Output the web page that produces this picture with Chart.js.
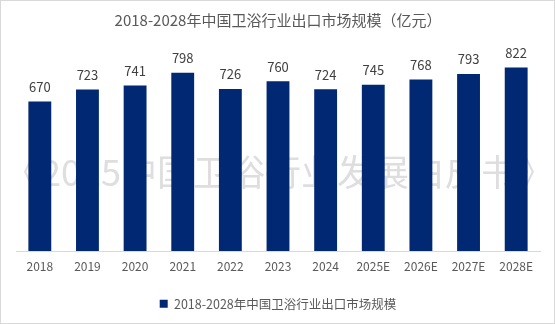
<!DOCTYPE html>
<html>
<head>
<meta charset="utf-8">
<script src="https://cdn.jsdelivr.net/npm/chart.js@4"></script>
<style>
    body { margin: 0; background: #fff; }
    #wrap { width: 555px; height: 324px; box-sizing: border-box; border: 1px solid #d9d9d9; }
</style>
</head>
<body>
<div id="wrap"><canvas id="exportChart" width="553" height="322"></canvas></div>
<script>
const years = ['2018', '2019', '2020', '2021', '2022', '2023', '2024', '2025E', '2026E', '2027E', '2028E'];
const exportValues = [670, 723, 741, 798, 726, 760, 724, 745, 768, 793, 822];
const yRange = [0, 900];

const titleText = '2018-2028年中国卫浴行业出口市场规模（亿元）';
const seriesName = '2018-2028年中国卫浴行业出口市场规模';
const watermarkText = '《2025中国卫浴行业发展白皮书》';

const fontFamily = '"Microsoft YaHei", "Noto Sans CJK SC", sans-serif';
const barColor = '#002873';

// watermark behind the bars
const watermark = {
    id: 'watermark',
    beforeDatasetsDraw(chart) {
        const ctx = chart.ctx;
        ctx.save();
        ctx.font = '36px ' + fontFamily;
        ctx.fillStyle = '#dedede';
        ctx.textAlign = 'center';
        ctx.textBaseline = 'middle';
        ctx.fillText(watermarkText, 278, 171);
        ctx.restore();
    }
};

// value labels above bars
const valueLabels = {
    id: 'valueLabels',
    afterDatasetsDraw(chart) {
        const ctx = chart.ctx;
        const meta = chart.getDatasetMeta(0);
        ctx.save();
        ctx.font = '13px ' + fontFamily;
        ctx.fillStyle = '#404040';
        ctx.textAlign = 'center';
        ctx.textBaseline = 'bottom';
        meta.data.forEach((bar, i) => {
            ctx.fillText(exportValues[i], bar.x, bar.y - 8);
        });
        ctx.restore();
    }
};

const ctx = document.getElementById('exportChart').getContext('2d');
new Chart(ctx, {
    type: 'bar',
    data: {
        labels: years,
        datasets: [{
            label: seriesName,
            data: exportValues,
            backgroundColor: barColor,
            borderWidth: 0,
            categoryPercentage: 1,
            barPercentage: 0.48
        }]
    },
    options: {
        responsive: false,
        animation: false,
        layout: { padding: { left: 15, right: 14, top: 0, bottom: 3 } },
        plugins: {
            title: {
                display: true,
                text: titleText,
                color: '#595959',
                font: { family: fontFamily, size: 15, weight: 'normal' },
                padding: { top: 10, bottom: 21 }
            },
            legend: {
                position: 'bottom',
                labels: {
                    color: '#595959',
                    font: { family: fontFamily, size: 12.5 },
                    boxWidth: 8,
                    boxHeight: 8,
                    padding: 10
                }
            },
            tooltip: { enabled: false }
        },
        scales: {
            x: {
                grid: { display: false, drawTicks: false },
                border: { display: true, color: '#d9d9d9' },
                ticks: {
                    color: '#595959',
                    font: { family: fontFamily, size: 12 },
                    padding: 8,
                    maxRotation: 0
                },
                afterFit: scale => { scale.height += 6; }
            },
            y: {
                display: false,
                min: yRange[0],
                max: yRange[1]
            }
        }
    },
    plugins: [watermark, valueLabels]
});
</script>
</body>
</html>
